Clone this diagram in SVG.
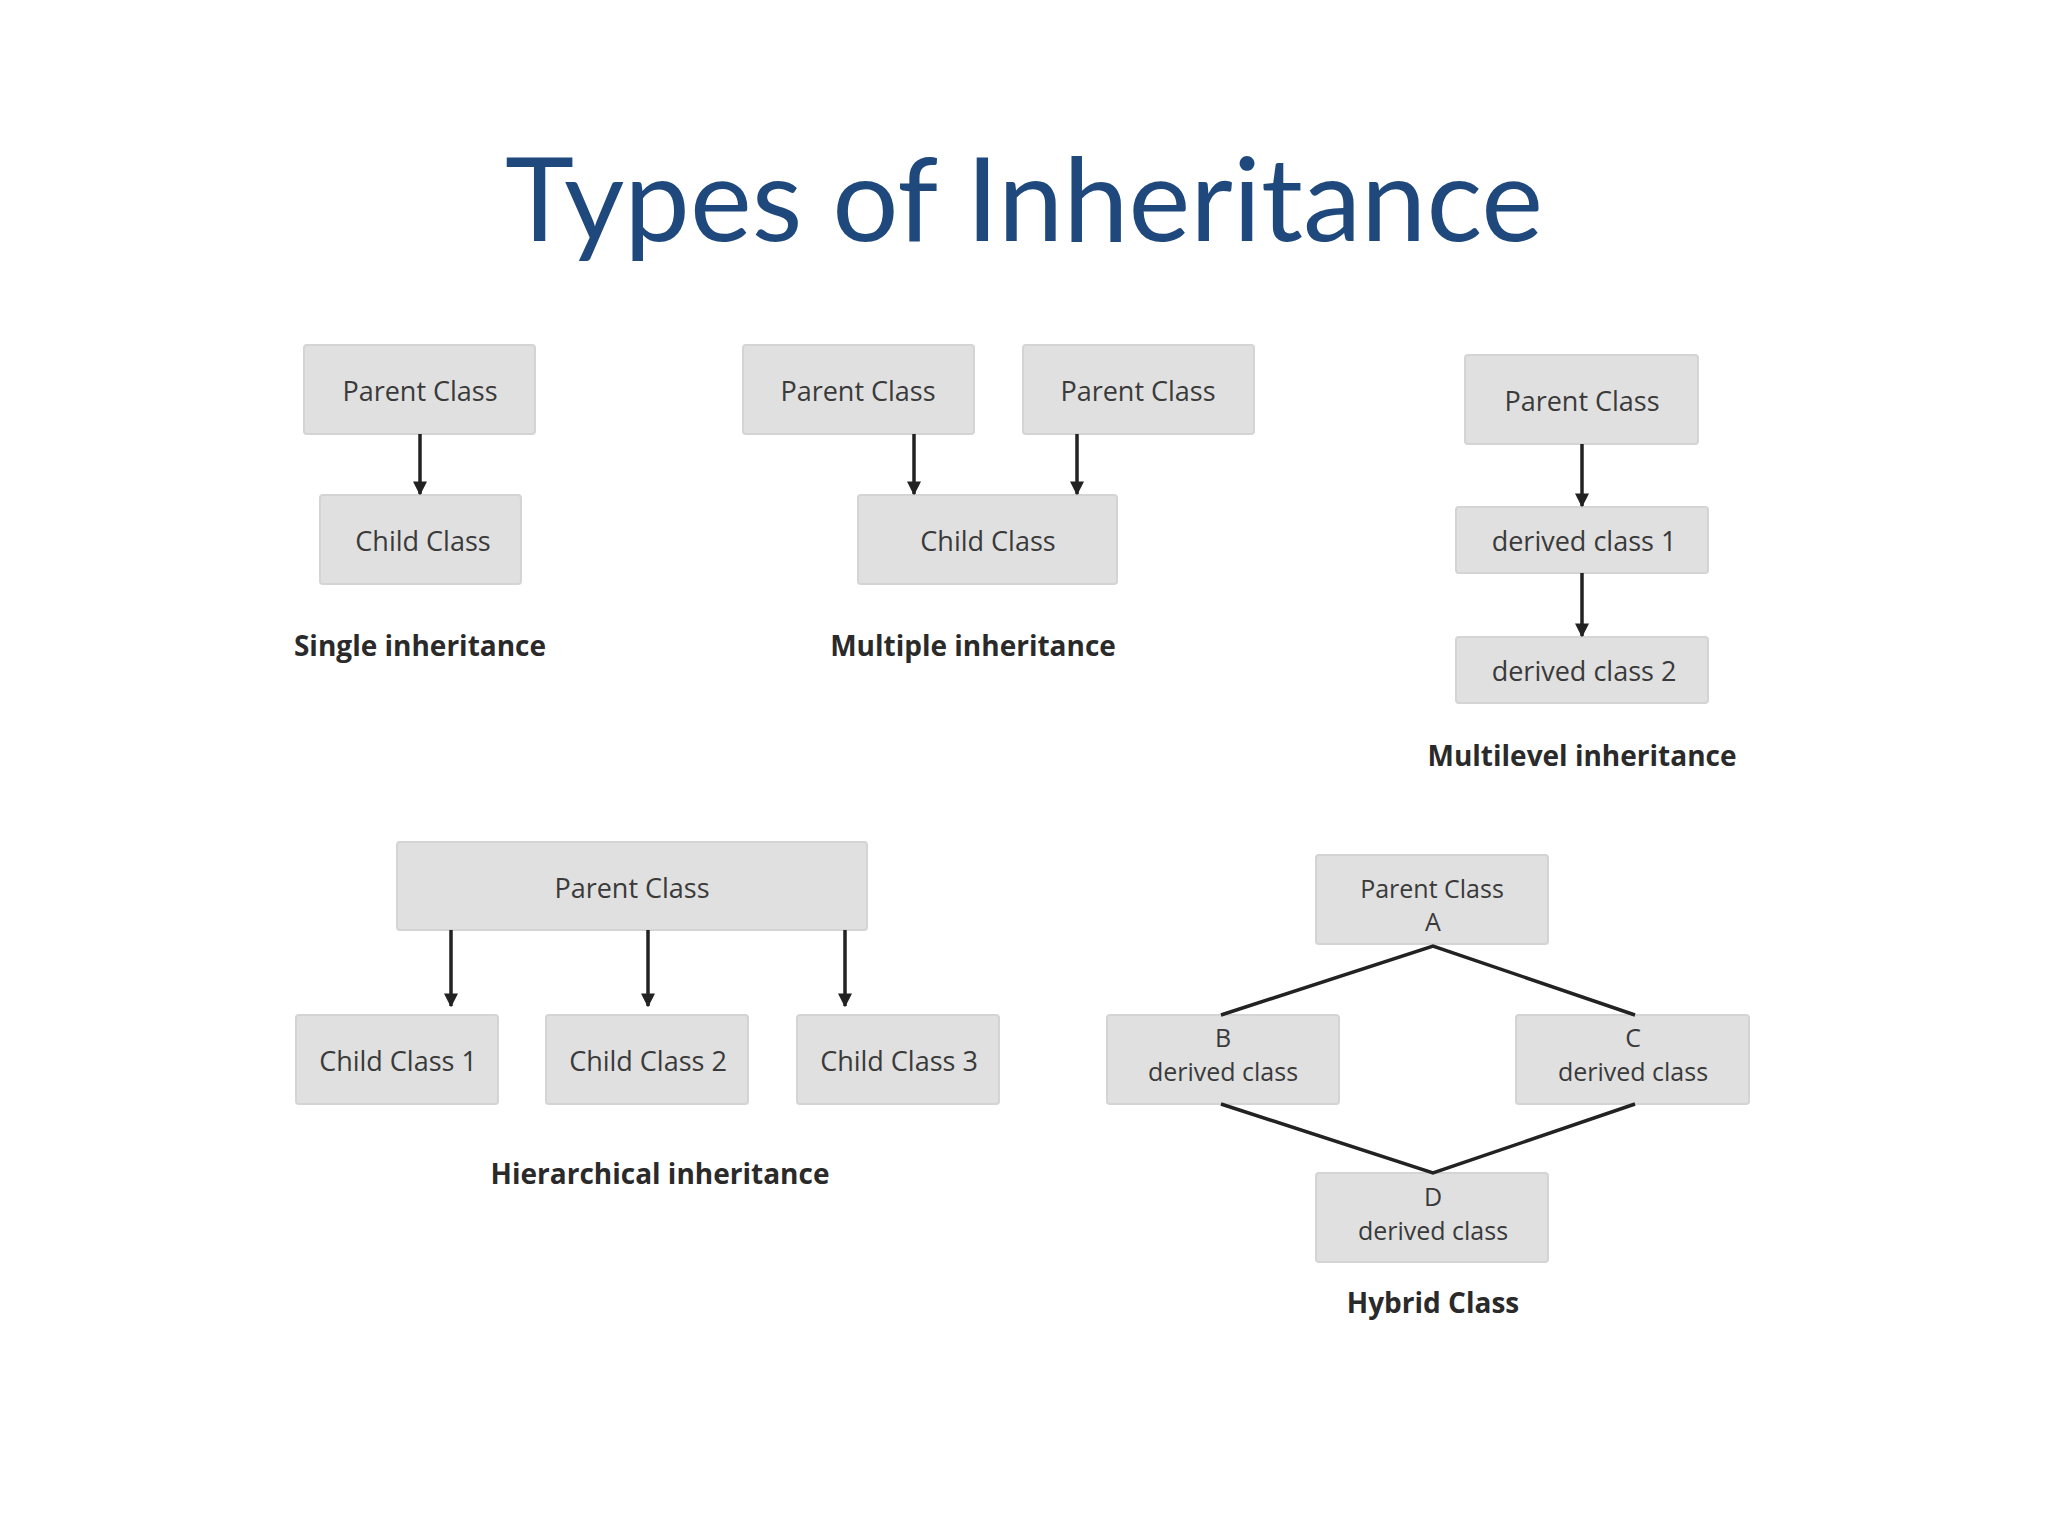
<svg xmlns="http://www.w3.org/2000/svg" width="2048" height="1536" viewBox="0 0 2048 1536">
<style>
.b{fill:#e0e0e0;stroke:#d4d4d4;stroke-width:2}
.t{font-family:"Open Sans","DejaVu Sans",sans-serif;font-size:27px;fill:#3a3a3a;text-anchor:middle;dominant-baseline:central}
.t2{font-family:"Open Sans","DejaVu Sans",sans-serif;font-size:25px;fill:#3a3a3a;text-anchor:middle;dominant-baseline:central}
.l{font-family:"Open Sans","DejaVu Sans",sans-serif;font-size:28px;font-weight:bold;fill:#2a2a2a;text-anchor:middle;dominant-baseline:central}
.c{stroke:#222;stroke-width:3.5;fill:none}
</style>
<defs><marker id="a" viewBox="0 0 10 10" refX="9" refY="5" markerWidth="4" markerHeight="4" orient="auto"><path d="M0,0L10,5L0,10z" fill="#222"/></marker></defs>
<rect width="2048" height="1536" fill="#fff"/>
<text x="1024" y="196" font-family="Lato,'Open Sans',sans-serif" font-size="117" fill="#1f497d" text-anchor="middle" dominant-baseline="central">Types of Inheritance</text>
<g id="s-parent"><rect class="b" x="304" y="345" width="231" height="89" rx="3"/><text class="t" x="420" y="390">Parent Class</text></g>
<g id="s-child"><rect class="b" x="320" y="495" width="201" height="89" rx="3"/><text class="t" x="423" y="540">Child Class</text></g>
<text class="l" x="420" y="645">Single inheritance</text>
<g id="m-p1"><rect class="b" x="743" y="345" width="231" height="89" rx="3"/><text class="t" x="858" y="390">Parent Class</text></g>
<g id="m-p2"><rect class="b" x="1023" y="345" width="231" height="89" rx="3"/><text class="t" x="1138" y="390">Parent Class</text></g>
<g id="m-child"><rect class="b" x="858" y="495" width="259" height="89" rx="3"/><text class="t" x="988" y="540">Child Class</text></g>
<text class="l" x="973" y="645">Multiple inheritance</text>
<g id="ml-p"><rect class="b" x="1465" y="355" width="233" height="89" rx="3"/><text class="t" x="1582" y="400">Parent Class</text></g>
<g id="ml-d1"><rect class="b" x="1456" y="507" width="252" height="66" rx="3"/><text class="t" x="1584" y="540">derived class 1</text></g>
<g id="ml-d2"><rect class="b" x="1456" y="637" width="252" height="66" rx="3"/><text class="t" x="1584" y="670">derived class 2</text></g>
<text class="l" x="1582" y="755">Multilevel inheritance</text>
<g id="h-p"><rect class="b" x="397" y="842" width="470" height="88" rx="3"/><text class="t" x="632" y="887">Parent Class</text></g>
<g id="h-c1"><rect class="b" x="296" y="1015" width="202" height="89" rx="3"/><text class="t" x="398" y="1060">Child Class 1</text></g>
<g id="h-c2"><rect class="b" x="546" y="1015" width="202" height="89" rx="3"/><text class="t" x="648" y="1060">Child Class 2</text></g>
<g id="h-c3"><rect class="b" x="797" y="1015" width="202" height="89" rx="3"/><text class="t" x="899" y="1060">Child Class 3</text></g>
<text class="l" x="660" y="1173">Hierarchical inheritance</text>
<g id="hy-a"><rect class="b" x="1316" y="855" width="232" height="89" rx="3"/><text class="t2" x="1432" y="888">Parent Class</text><text class="t2" x="1433" y="921">A</text></g>
<g id="hy-b"><rect class="b" x="1107" y="1015" width="232" height="89" rx="3"/><text class="t2" x="1223" y="1037">B</text><text class="t2" x="1223" y="1071">derived class</text></g>
<g id="hy-c"><rect class="b" x="1516" y="1015" width="233" height="89" rx="3"/><text class="t2" x="1633" y="1037">C</text><text class="t2" x="1633" y="1071">derived class</text></g>
<g id="hy-d"><rect class="b" x="1316" y="1173" width="232" height="89" rx="3"/><text class="t2" x="1433" y="1196">D</text><text class="t2" x="1433" y="1230">derived class</text></g>
<text class="l" x="1433" y="1302">Hybrid Class</text>
<g id="connectors">
<line class="c" x1="420" y1="434" x2="420" y2="494" marker-end="url(#a)"/>
<line class="c" x1="914" y1="434" x2="914" y2="494" marker-end="url(#a)"/>
<line class="c" x1="1077" y1="434" x2="1077" y2="494" marker-end="url(#a)"/>
<line class="c" x1="1582" y1="444" x2="1582" y2="506" marker-end="url(#a)"/>
<line class="c" x1="1582" y1="573" x2="1582" y2="636" marker-end="url(#a)"/>
<line class="c" x1="451" y1="930" x2="451" y2="1006" marker-end="url(#a)"/>
<line class="c" x1="648" y1="930" x2="648" y2="1006" marker-end="url(#a)"/>
<line class="c" x1="845" y1="930" x2="845" y2="1006" marker-end="url(#a)"/>
<polyline class="c" points="1221,1015 1433,946 1635,1015"/>
<polyline class="c" points="1221,1104 1433,1173 1635,1104"/>
</g>
</svg>
